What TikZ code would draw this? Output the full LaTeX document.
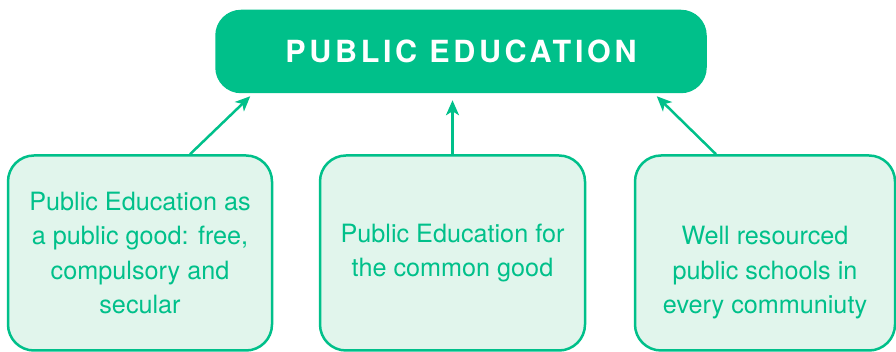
\documentclass[tikz,border=0pt]{standalone}
\usepackage{fontspec}
\setmainfont{TeX Gyre Heros}
\usetikzlibrary{arrows.meta}
\definecolor{edgreen}{HTML}{00C08A}
\definecolor{edlight}{HTML}{E1F5EC}

\tikzset{
    title/.style={draw=edgreen, fill=edgreen, line width=1.5pt, rounded corners=25pt,
        text=white, minimum width=490pt, minimum height=82pt,
        font=\fontsize{30.5}{36}\selectfont\bfseries\addfontfeature{LetterSpace=12}},
    card/.style={draw=edgreen, fill=edlight, line width=2.5pt, rounded corners=26pt,
        minimum height=195pt},
    cardtext/.style={text=edgreen, align=center,
        font=\fontsize{25.2}{34.5}\selectfont},
    link/.style={draw=edgreen, line width=2.5pt,
        -{Stealth[length=15pt,width=13pt,inset=4pt]}}
}

\begin{document}
\begin{tikzpicture}[x=1pt,y=1pt]
    \useasboundingbox (0,0) rectangle (896,352);

    % Top box
    \node[title] (edu) at (461,300.5) {PUBLIC EDUCATION};

    % The three supporting boxes
    \node[card, minimum width=264pt] (good) at (140,99) {};
    \node[card, minimum width=265pt] (common) at (452.5,99) {};
    \node[card, minimum width=260pt] (schools) at (765,99) {};

    \node[cardtext] (goodtext) at (good.center)
        {Public Education as\\a public good: free,\\compulsory and\\secular};
    \node[cardtext] (commontext) at (common.center)
        {Public Education for\\the common good};
    \node[cardtext] (schoolstext) at ([yshift=-20pt]schools.center)
        {Well resourced\\public schools in\\every communiuty};

    % Arrows up to the top box
    \draw[link] ([xshift=50pt]good.north) -- ([xshift=35pt,yshift=-3pt]edu.south west);
    \draw[link] (common.north) -- ([yshift=-7pt]common.north |- edu.south);
    \draw[link] ([xshift=-49pt]schools.north) -- ([xshift=-50pt,yshift=-3pt]edu.south east);
\end{tikzpicture}
\end{document}
